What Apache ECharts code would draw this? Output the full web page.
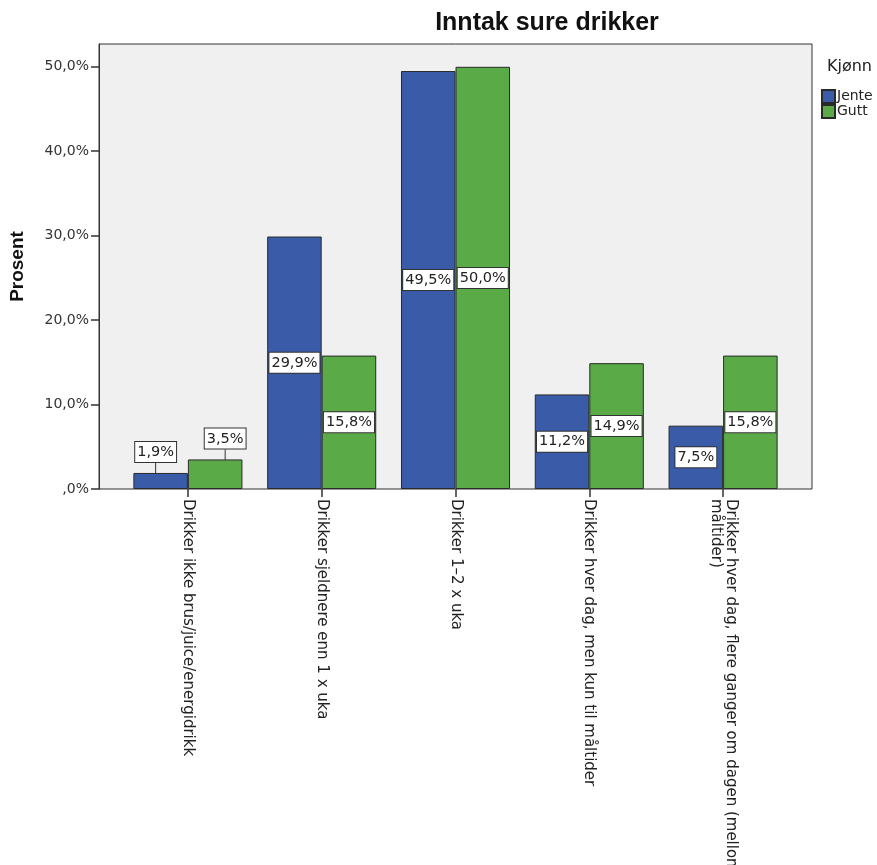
<!DOCTYPE html>
<html>
<head>
<meta charset="utf-8">
<script src="https://cdn.jsdelivr.net/npm/echarts@6/dist/echarts.min.js"></script>
<style>
    html, body { margin: 0; background: #fff; }
    #chart { width: 877px; height: 865px; }
</style>
</head>
<body>
<div id="chart"></div>
<script>
// 数据
var categories = [
    'Drikker ikke brus/juice/energidrikk',
    'Drikker sjeldnere enn 1 x uka',
    'Drikker 1–2 x uka',
    'Drikker hver dag, men kun til måltider',
    'Drikker hver dag, flere ganger om dagen (mellom\nmåltider)'
];
var seriesNames = ['Jente', 'Gutt'];
var jente = [1.9, 29.9, 49.5, 11.2, 7.5];
var gutt = [3.5, 15.8, 50.0, 14.9, 15.8];
var yTicks = [0, 10, 20, 30, 40, 50];
var yMax = 52.7;

var fmtPct = function (v) {
    if (v === 0) return ',0%';
    return v.toFixed(1).replace('.', ',') + '%';
};

// 小数值的标签放到柱子上方, 带引导线
function buildData(arr) {
    return arr.map(function (v, i) {
        if (i === 0) {
            return {
                value: v,
                label: { position: 'top', distance: 0 },
                labelLine: { show: true }
            };
        }
        return v;
    });
}

var labelBox = {
    show: true,
    position: 'inside',
    formatter: function (p) { return fmtPct(p.value); },
    color: '#222',
    fontFamily: 'DejaVu Sans',
    fontSize: 14.5,
    backgroundColor: '#fff',
    borderColor: '#333',
    borderWidth: 1,
    padding: [3, 2, 2, 2]
};

var chart = echarts.init(document.getElementById('chart'));

var option = {
    animation: false,
    title: [{
        text: 'Inntak sure drikker',
        left: 542,
        textAlign: 'center',
        top: 6,
        textStyle: { fontFamily: 'Liberation Sans', fontWeight: 'bold', fontSize: 25, color: '#111' }
    }, {
        text: 'Kjønn',
        left: 822,
        top: 54,
        textStyle: { fontFamily: 'DejaVu Sans', fontWeight: 'normal', fontSize: 16, color: '#222' }
    }],
    legend: {
        data: seriesNames,
        orient: 'vertical',
        left: 821,
        top: 89,
        padding: 0,
        itemGap: 0,
        itemWidth: 13,
        itemHeight: 13,
        icon: 'rect',
        textStyle: { fontFamily: 'DejaVu Sans', fontSize: 14, color: '#222', padding: [0, 0, 0, -3] }
    },
    grid: [{
        // 外框
        left: 99, right: 65, top: 44, bottom: 376,
        outerBoundsMode: 'none',
        containLabel: false,
        show: true,
        backgroundColor: '#f0f0f0',
        borderColor: '#333',
        borderWidth: 1
    }, {
        // 柱子所在区域
        left: 121, right: 87, top: 44, bottom: 376,
        outerBoundsMode: 'none',
        containLabel: false
    }],
    xAxis: [{
        gridIndex: 0, type: 'value', show: false, min: 0, max: 1
    }, {
        gridIndex: 1,
        type: 'category',
        data: categories,
        axisLine: { show: false },
        axisTick: { show: true, alignWithLabel: true, length: 8, lineStyle: { color: '#333', width: 1.5 } },
        axisLabel: {
            rotate: -90,
            margin: 10,
            interval: 0,
            fontFamily: 'DejaVu Sans',
            fontSize: 15,
            color: '#222',
            lineHeight: 15
        }
    }],
    yAxis: [{
        gridIndex: 0,
        type: 'value',
        min: 0,
        max: yMax,
        name: 'Prosent',
        nameLocation: 'middle',
        nameGap: 72,
        nameTextStyle: { fontFamily: 'Liberation Sans', fontWeight: 'bold', fontSize: 19, color: '#111' },
        axisLine: { show: true, lineStyle: { color: '#333', width: 1 } },
        axisTick: { show: true, length: 8, customValues: yTicks, lineStyle: { color: '#333', width: 1.5 } },
        axisLabel: {
            customValues: yTicks,
            margin: 10,
            formatter: fmtPct,
            fontFamily: 'DejaVu Sans',
            fontSize: 14,
            color: '#333'
        },
        splitLine: { show: false }
    }, {
        gridIndex: 1, type: 'value', show: false, min: 0, max: yMax
    }],
    series: [{
        name: 'Jente',
        type: 'bar',
        xAxisIndex: 1,
        yAxisIndex: 1,
        barGap: '0%',
        barCategoryGap: '18.5%',
        itemStyle: { color: '#3a5ba8', borderColor: '#2a2a2a', borderWidth: 1 },
        label: labelBox,
        labelLine: { show: false, lineStyle: { color: '#333', width: 1 } },
        labelLayout: function (p) {
            if (p.dataIndex === 0) return { dx: -5, dy: -11 };
        },
        data: buildData(jente)
    }, {
        name: 'Gutt',
        type: 'bar',
        xAxisIndex: 1,
        yAxisIndex: 1,
        barGap: '0%',
        barCategoryGap: '18.5%',
        itemStyle: { color: '#5aab47', borderColor: '#2a2a2a', borderWidth: 1 },
        label: labelBox,
        labelLine: { show: false, lineStyle: { color: '#333', width: 1 } },
        labelLayout: function (p) {
            if (p.dataIndex === 0) return { dx: 10, dy: -11 };
        },
        data: buildData(gutt)
    }]
};

chart.setOption(option);
</script>
</body>
</html>
